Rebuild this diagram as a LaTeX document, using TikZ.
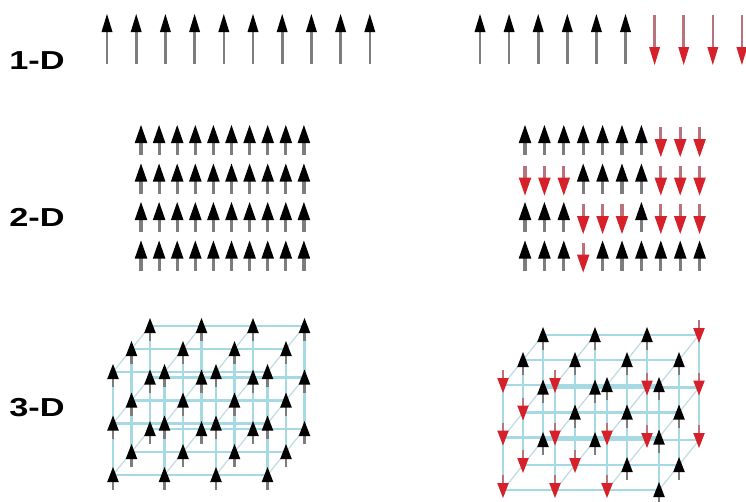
\documentclass[tikz,border=0pt]{standalone}
\usepackage{fontspec}
\setmainfont{Liberation Sans}
\definecolor{latc}{RGB}{165,218,228}
\definecolor{latd}{RGB}{190,220,226}
\definecolor{shaftg}{RGB}{125,125,125}
\definecolor{shaftr}{RGB}{185,115,125}
\definecolor{headr}{RGB}{214,32,42}
\tikzset{
  latline/.style={draw=latc, line width=2.4pt},
  latdepth/.style={draw=latd, line width=1.2pt},
  lbl/.style={font=\bfseries\fontsize{26}{26}\selectfont, inner sep=0pt},
}
% up arrow: x, tip y, head length, half width, bottom y, shaft width
\newcommand\upA[6]{%
  \draw[line width=#6, shaftg] (#1,{#2+#3-1}) -- (#1,#5);
  \fill[black] (#1,#2) -- ({#1+#4},{#2+#3}) -- ({#1-#4},{#2+#3}) -- cycle;}
% down arrow: x, tip y, head length, half width, top y, shaft width
\newcommand\dnA[6]{%
  \draw[line width=#6, shaftr] (#1,{#2-#3+1}) -- (#1,#5);
  \fill[headr] (#1,#2) -- ({#1+#4},{#2-#3}) -- ({#1-#4},{#2-#3}) -- cycle;}
\begin{document}
\begin{tikzpicture}[x=1pt,y=-1pt]
\fill[white] (0,0) rectangle (746,501);
\useasboundingbox (0,0) rectangle (746,501);

% labels
\node[lbl] (l1) at (37,61) {\scalebox{1.32}[1]{1-D}};
\node[lbl] (l2) at (37,217) {\scalebox{1.32}[1]{2-D}};
\node[lbl] (l3) at (37,408) {\scalebox{1.32}[1]{3-D}};

% 1-D
\foreach \i in {0,...,9}{
  \pgfmathsetmacro\xx{107+29.2*\i}
  \upA{\xx}{14}{18}{5.5}{64}{2.6}
}
\foreach \i in {0,...,5}{
  \pgfmathsetmacro\xx{480+29.1*\i}
  \upA{\xx}{14}{18}{5.5}{64}{2.6}
}
\foreach \i in {6,...,9}{
  \pgfmathsetmacro\xx{480+29.1*\i}
  \dnA{\xx}{65}{18}{5.5}{15}{2.6}
}

% 2-D left
\foreach \r in {0,...,3}{
  \foreach \i in {0,...,9}{
    \pgfmathsetmacro\xx{141+18.1*\i}
    \pgfmathsetmacro\yy{125+38.5*\r}
    \pgfmathsetmacro\yb{\yy+30}
    \upA{\xx}{\yy}{18}{6.3}{\yb}{3.2}
  }
}
% 2-D right
\foreach \r/\pat in {0/{1,1,1,1,1,1,1,0,0,0},1/{0,0,0,1,1,1,1,0,0,0},2/{1,1,1,0,0,0,1,0,0,0},3/{1,1,1,0,1,1,1,1,1,1}}{
  \foreach \s [count=\i from 0] in \pat {
    \pgfmathsetmacro\xx{525+19.4*\i}
    \pgfmathsetmacro\yy{125+38.5*\r}
    \ifnum\s=1
      \pgfmathsetmacro\yb{\yy+30}
      \upA{\xx}{\yy}{18}{6.3}{\yb}{3.2}
    \else
      \pgfmathsetmacro\yt{\yy+32}
      \pgfmathsetmacro\yb{\yy+2}
      \dnA{\xx}{\yt}{18}{6.3}{\yb}{3.2}
    \fi
  }
}

% 3-D left lattice
\foreach \i in {0,...,3}{\foreach \j in {0,1,2}{
  \draw[latdepth] ({113+51.5*\i},{475-51.5*\j}) -- ({113+51.5*\i+37},{475-51.5*\j-46});
}}
\foreach \k in {0,1,2}{
  \foreach \j in {0,1,2}{
    \draw[latline] ({113+18.5*\k},{475-51.5*\j-23*\k}) -- ({113+154.5+18.5*\k},{475-51.5*\j-23*\k});
  }
  \foreach \i in {0,...,3}{
    \draw[latline] ({113+51.5*\i+18.5*\k},{475-23*\k}) -- ({113+51.5*\i+18.5*\k},{475-103-23*\k});
  }
}
\foreach \k in {2,1,0}{\foreach \j in {0,1,2}{\foreach \i in {0,...,3}{
  \pgfmathsetmacro\xx{113+51.5*\i+18.5*\k}
  \pgfmathsetmacro\yc{475-51.5*\j-23*\k}
  \pgfmathsetmacro\yt{\yc-8}
  \pgfmathsetmacro\yb{\yc+15}
  \upA{\xx}{\yt}{15}{5.8}{\yb}{2.4}
}}}

% 3-D right lattice
\foreach \i in {0,...,3}{\foreach \j in {0,1,2}{
  \draw[latdepth] ({503+52*\i},{490-52.5*\j}) -- ({503+52*\i+40},{490-52.5*\j-50});
}}
\foreach \k in {0,1,2}{
  \foreach \j in {0,1,2}{
    \draw[latline] ({503+20*\k},{490-52.5*\j-25*\k}) -- ({503+156+20*\k},{490-52.5*\j-25*\k});
  }
  \foreach \i in {0,...,3}{
    \draw[latline] ({503+52*\i+20*\k},{490-25*\k}) -- ({503+52*\i+20*\k},{490-105-25*\k});
  }
}
\foreach \k/\j/\pat in {2/2/{1,1,1,0},2/1/{1,1,0,0},2/0/{1,1,0,0},
                        1/2/{1,1,1,1},1/1/{0,1,1,1},1/0/{0,0,1,1},
                        0/2/{0,0,1,1},0/1/{0,0,0,1},0/0/{0,0,0,1}}{
  \foreach \s [count=\i from 0] in \pat {
    \pgfmathsetmacro\xx{503+52*\i+20*\k}
    \pgfmathsetmacro\yc{490-52.5*\j-25*\k}
    \ifnum\s=1
      \pgfmathsetmacro\yt{\yc-8}
      \pgfmathsetmacro\yb{\yc+15}
      \upA{\xx}{\yt}{15}{5.8}{\yb}{2.4}
    \else
      \pgfmathsetmacro\yt{\yc+8}
      \pgfmathsetmacro\yb{\yc-15}
      \dnA{\xx}{\yt}{15}{5.8}{\yb}{2.4}
    \fi
  }
}
\end{tikzpicture}
\end{document}
